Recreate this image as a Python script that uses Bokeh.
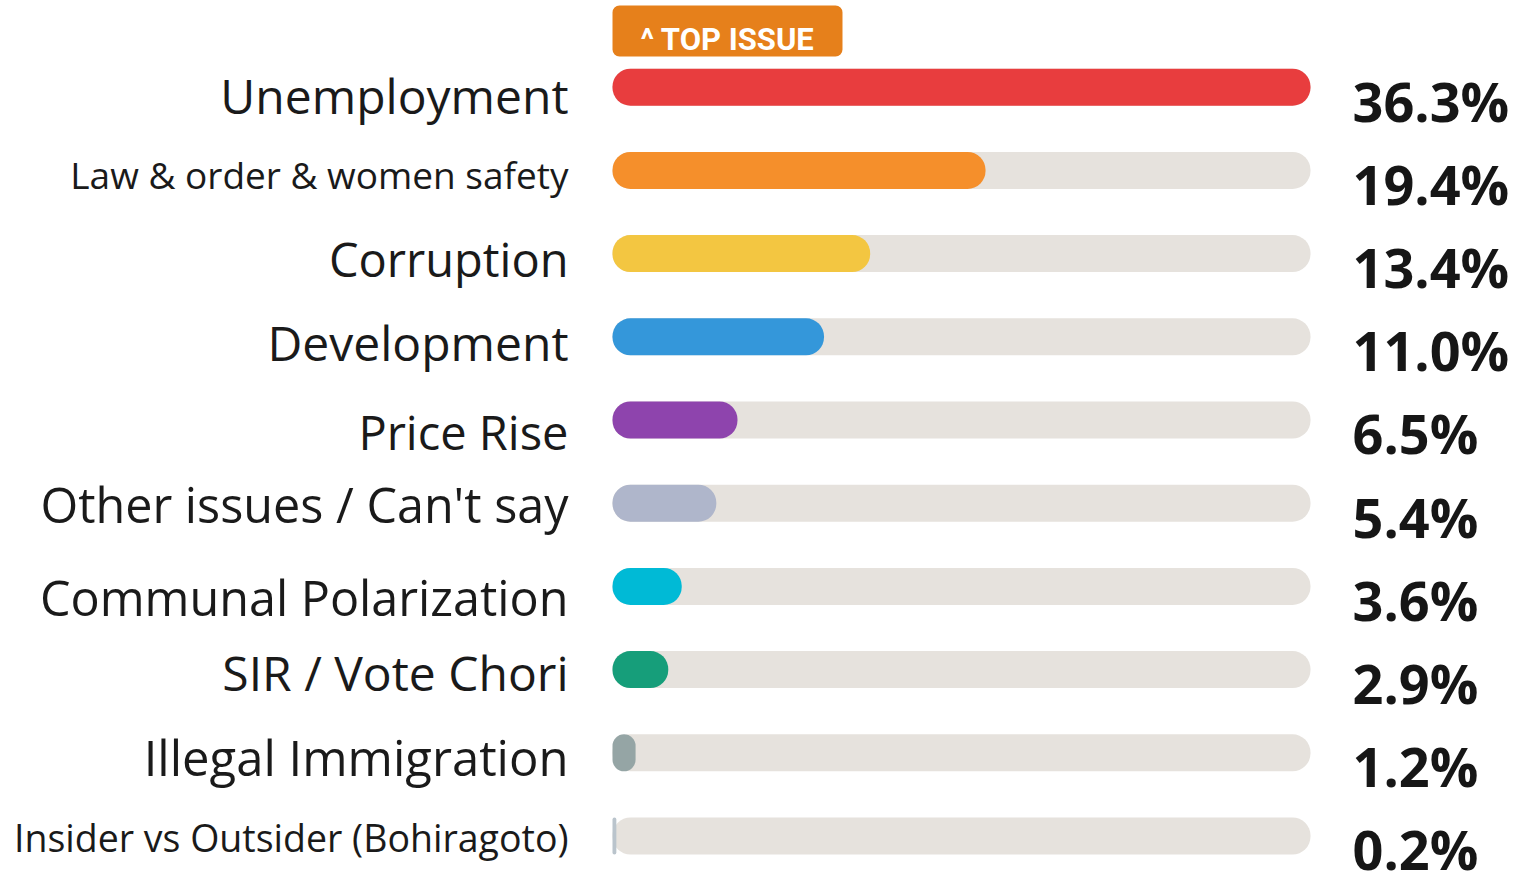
from bokeh.plotting import figure
from bokeh.models import Range1d, ColumnDataSource
from bokeh.embed import file_html
from bokeh.resources import INLINE
from bokeh.core.properties import value

# ---------------- data ----------------
categories = [
    "Unemployment",
    "Law & order & women safety",
    "Corruption",
    "Development",
    "Price Rise",
    "Other issues / Can't say",
    "Communal Polarization",
    "SIR / Vote Chori",
    "Illegal Immigration",
    "Insider vs Outsider (Bohiragoto)",
]
shares = [36.3, 19.4, 13.4, 11.0, 6.5, 5.4, 3.6, 2.9, 1.2, 0.2]
share_labels = ["36.3%", "19.4%", "13.4%", "11.0%", "6.5%", "5.4%", "3.6%", "2.9%", "1.2%", "0.2%"]
badge_text = "^ TOP ISSUE"

# ---------------- styling ----------------
bar_colors = ["#E83D3E", "#F58F2B", "#F3C641", "#3497DA", "#8E44AD",
              "#AFB6CB", "#00BAD6", "#169E7A", "#95A5A5", "#BAC4CC"]
label_sizes = [48, 37, 47, 48, 47, 48.5, 48.5, 48, 49, 37.5]
label_base = [28, 20, 25, 26, 32, 21, 31, 23, 25, 17]   # baseline below bar centre (px)
TRACK_COLOR = "#E6E2DD"
BADGE_COLOR = "#E6801B"
SHIFT = 0.42   # em correction for Bokeh's text anchor

W, H = 1525, 875
X0 = 612            # px where bars start
TRACK_PX = 698      # px length of full track
ROW0 = 86.7         # px of first row centre
ROW = 83.2          # px per row
BAR_PX = 37
PCT_SIZE = 54

n = len(categories)
track_max = max(shares)
S = TRACK_PX / track_max

p = figure(width=W, height=H, output_backend="svg", toolbar_location=None,
           x_range=Range1d(-X0 / S, (W - X0) / S),
           y_range=Range1d((H - ROW0) / ROW, -ROW0 / ROW),
           min_border=0)
p.axis.visible = False
p.grid.visible = False
p.outline_line_color = None
p.background_fill_color = "white"
p.border_fill_color = "white"

ys = list(range(n))
src = ColumnDataSource(dict(
    y=ys, cat=categories, v=shares, lab=share_labels, color=bar_colors,
    track=[track_max] * n, size=[f"{s}px" for s in label_sizes],
    dy=[b - SHIFT * s for b, s in zip(label_base, label_sizes)],
))

bh = BAR_PX / ROW
p.hbar(y="y", left=0, right="track", height=bh, source=src,
       fill_color=TRACK_COLOR, line_color=None, border_radius=18)
p.hbar(y="y", left=0, right="v", height=bh, source=src,
       fill_color="color", line_color=None, border_radius=18)

p.text(x=0, y="y", text="cat", source=src, x_offset=-44, y_offset="dy",
       text_align="right", text_baseline="alphabetic",
       text_font=value("Open Sans"), text_font_size="size", text_color="#1a1a1a")

p.text(x="track", y="y", text="lab", source=src, x_offset=42,
       y_offset=36 - SHIFT * PCT_SIZE,
       text_align="left", text_baseline="alphabetic",
       text_font=value("Open Sans"), text_font_style="bold",
       text_font_size=f"{PCT_SIZE}px", text_color="#161616")

# badge above top bar
badge_right = (842 - 612) / S
p.quad(left=[0], right=[badge_right], top=[(5 - ROW0) / ROW], bottom=[(56 - ROW0) / ROW],
       fill_color=BADGE_COLOR, line_color=None, border_radius=7)
p.text(x=[badge_right / 2], y=[(52 - ROW0) / ROW], text=[badge_text],
       y_offset=-SHIFT * 31,
       text_align="center", text_baseline="alphabetic",
       text_font=value("Roboto"), text_font_style="bold",
       text_font_size="31px", text_color="white")

open("out.html", "w").write(file_html(p, INLINE))
